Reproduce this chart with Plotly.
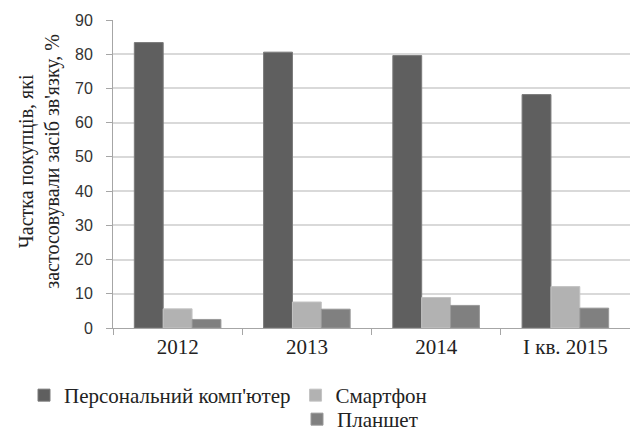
import plotly.graph_objects as go

categories = ["2012", "2013", "2014", "I кв. 2015"]
pc = [83.4, 80.6, 79.6, 68.2]
smartphone = [5.6, 7.6, 8.9, 12.1]
tablet = [2.5, 5.5, 6.6, 5.8]
y_ticks = [0, 10, 20, 30, 40, 50, 60, 70, 80, 90]
y_title = "Частка покупців, які<br>застосовували засіб зв'язку, %"

serif = "Liberation Serif"
sans = "Liberation Sans"

fig = go.Figure()
fig.add_trace(go.Bar(x=categories, y=pc, name="Персональний комп'ютер",
                     marker=dict(color="#5f5f5f", line=dict(color="#7a7a7a", width=1)),
                     legend="legend"))
fig.add_trace(go.Bar(x=categories, y=smartphone, name="Смартфон",
                     marker=dict(color="#b2b2b2", line=dict(color="#c4c4c4", width=1)),
                     legend="legend"))
fig.add_trace(go.Bar(x=categories, y=tablet, name="Планшет",
                     marker=dict(color="#808080", line=dict(color="#999999", width=1)),
                     legend="legend2"))

fig.add_annotation(text=y_title, xref="paper", yref="paper",
                   x=(40 - 113) / 517, y=0.54, xanchor="center", yanchor="middle",
                   textangle=-90, showarrow=False, align="center",
                   font=dict(family=serif, size=20, color="#222222"))

fig.update_layout(
    width=630, height=437,
    margin=dict(l=113, r=0, t=20, b=109, autoexpand=False),
    paper_bgcolor="white", plot_bgcolor="white",
    barmode="group", bargap=0.33, bargroupgap=0,
    font=dict(family=serif, size=20, color="#222222"),
    showlegend=True,
    legend=dict(orientation="h", xref="container", yref="container",
                x=24 / 630, y=1 - 375 / 437, xanchor="left", yanchor="top",
                font=dict(family=serif, size=21, color="#222222"),
                bgcolor="rgba(0,0,0,0)"),
    legend2=dict(orientation="v", xref="container", yref="container",
                 x=297 / 630, y=1 - 399 / 437, xanchor="left", yanchor="top",
                 font=dict(family=serif, size=21, color="#222222"),
                 bgcolor="rgba(0,0,0,0)"),
    xaxis=dict(showline=True, linecolor="#a6a6a6", linewidth=1,
               ticks="outside", tickson="boundaries", ticklen=6, tickcolor="#a6a6a6",
               tickfont=dict(family=serif, size=21, color="#222222"),
               tickangle=0, showgrid=False, automargin=False),
    yaxis=dict(range=[0, 90], tickvals=y_ticks, showline=True, linecolor="#a6a6a6",
               linewidth=1, ticks="outside", ticklen=6, tickcolor="#a6a6a6",
               gridcolor="#d9d9d9", gridwidth=1.5, automargin=False,
               ticklabelstandoff=10,
               tickfont=dict(family=sans, size=16, color="#333333"),
               zeroline=False),
)

fig.write_html("out.html")
